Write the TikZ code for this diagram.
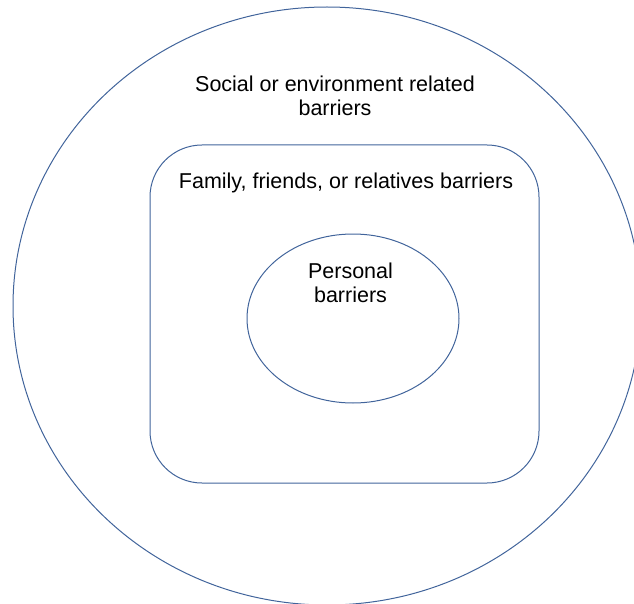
\documentclass[tikz,border=0pt]{standalone}
\usepackage{fontspec}
\setmainfont{Liberation Sans}
\usetikzlibrary{shapes.geometric}

\definecolor{barrierblue}{RGB}{65,100,155}

\begin{document}
\begin{tikzpicture}
        [x=1pt, y=-1pt,
        every node/.style={inner sep=0pt, outer sep=0pt},
        ring/.style={draw=barrierblue, line width=1pt},
        label text/.style={anchor=north, align=center, font=\fontsize{21.5}{24.4}\selectfont}]

        \useasboundingbox (0,0) rectangle (634,604);
        \clip (0,0) rectangle (634,604);

        \node[ring, ellipse, minimum width=628pt, minimum height=598pt] (social) at (327,306) {};
        \node[ring, rectangle, rounded corners=52pt, minimum width=389pt, minimum height=338pt] (family) at (344.5,314) {};
        \node[ring, ellipse, minimum width=212pt, minimum height=169pt] (personal) at (353,318.5) {};

        \node[label text] (social text) at (335,76) {Social or environment related\\barriers};
        \node[label text] (family text) at (346,172.7) {Family, friends, or relatives barriers};
        \node[label text] (personal text) at (350.5,262.7) {Personal\\barriers};
\end{tikzpicture}
\end{document}
